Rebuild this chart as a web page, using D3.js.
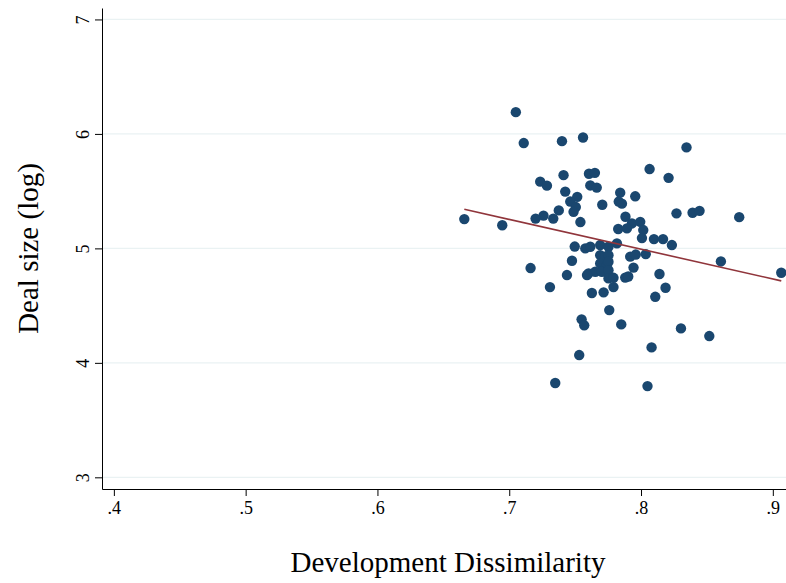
<!DOCTYPE html>
<html>
<head>
<meta charset="utf-8">
<script src="https://cdn.jsdelivr.net/npm/d3@7"></script>
<style>
  body { margin: 0; background: #fff; }
  text { font-family: "Liberation Serif", "Times New Roman", serif; }
</style>
</head>
<body>
<div id="chart"></div>
<script>
// Development dissimilarity (x) and log deal size (y)
const dissimilarity = [
  0.705, 0.711, 0.740, 0.756, 0.7235, 0.7286, 0.7412, 0.7605, 0.7650, 0.7615,
  0.7664, 0.7425, 0.7516, 0.7463, 0.7505, 0.7488, 0.7706, 0.7842, 0.7831, 0.7855,
  0.7376, 0.7334, 0.7260, 0.7200, 0.7540, 0.6659, 0.6947, 0.8345, 0.8065, 0.8209,
  0.7956, 0.7882, 0.8269, 0.8391, 0.8444, 0.8745, 0.7827, 0.7931, 0.7994, 0.7893,
  0.8017, 0.8007, 0.8098, 0.8167, 0.8234, 0.8606, 0.9064, 0.7497, 0.7577, 0.7615,
  0.7690, 0.7753, 0.7817, 0.7690, 0.7728, 0.7753, 0.7690, 0.7741, 0.7753, 0.7602,
  0.7653, 0.7703, 0.7753, 0.7753, 0.7791, 0.7880, 0.7903, 0.7791, 0.7627, 0.7716,
  0.7918, 0.7960, 0.8036, 0.7943, 0.8108, 0.8140, 0.8186, 0.7162, 0.7476, 0.7438,
  0.7590, 0.7309, 0.7759, 0.7549, 0.7569, 0.7850, 0.7531, 0.7349, 0.8303, 0.8518,
  0.8080, 0.8049
];
const dealSize = [
  6.190, 5.920, 5.937, 5.969, 5.583, 5.548, 5.640, 5.652, 5.660, 5.550,
  5.531, 5.496, 5.450, 5.409, 5.361, 5.319, 5.381, 5.487, 5.409, 5.391,
  5.332, 5.260, 5.286, 5.260, 5.230, 5.256, 5.202, 5.882, 5.693, 5.616,
  5.455, 5.276, 5.306, 5.311, 5.328, 5.273, 5.169, 5.218, 5.232, 5.175,
  5.160, 5.090, 5.081, 5.081, 5.029, 4.886, 4.787, 5.016, 5.000, 5.014,
  5.029, 5.014, 5.044, 4.941, 4.927, 4.941, 4.869, 4.854, 4.883, 4.782,
  4.796, 4.796, 4.810, 4.738, 4.743, 4.745, 4.754, 4.662, 4.610, 4.616,
  4.928, 4.946, 4.950, 4.832, 4.577, 4.776, 4.656, 4.828, 4.892, 4.767,
  4.767, 4.662, 4.461, 4.380, 4.328, 4.336, 4.068, 3.824, 4.301, 4.234,
  4.135, 3.797
];

// Linear fit line (intercept, slope)
const fitIntercept = 7.073;
const fitSlope = -2.60;

const xTicks = [0.4, 0.5, 0.6, 0.7, 0.8, 0.9];
const yTicks = [3, 4, 5, 6, 7];

const width = 786, height = 583;
const margin = { top: 8, right: 0, bottom: 94, left: 102 };

const svg = d3.select("#chart")
    .append("svg")
    .attr("width", width)
    .attr("height", height);

const x = d3.scaleLinear()
    .domain([0.391, 0.910])
    .range([margin.left, width - margin.right]);

const y = d3.scaleLinear()
    .domain([2.898, 7.10])
    .range([height - margin.bottom, margin.top]);

// Gridlines
svg.append("g")
    .selectAll("line")
    .data(yTicks)
    .enter()
    .append("line")
    .attr("x1", margin.left)
    .attr("x2", width - margin.right)
    .attr("y1", d => y(d))
    .attr("y2", d => y(d))
    .attr("stroke", "#eaf2f3")
    .attr("stroke-width", 1.2);

// Y axis (Stata style: labels turned vertical)
const yAxis = svg.append("g")
    .attr("transform", `translate(${margin.left},0)`)
    .call(d3.axisLeft(y).tickValues(yTicks).tickSize(7).tickSizeOuter(0).tickFormat(d3.format("d")));
yAxis.select(".domain").attr("stroke", "#000");
yAxis.selectAll(".tick text")
    .attr("font-size", "18px")
    .attr("font-family", "Liberation Serif, serif")
    .attr("text-anchor", "middle")
    .attr("x", 0)
    .attr("y", 0)
    .attr("dy", "0")
    .attr("transform", "translate(-13,0) rotate(-90)");

// X axis
const xAxis = svg.append("g")
    .attr("transform", `translate(0,${height - margin.bottom})`)
    .call(d3.axisBottom(x).tickValues(xTicks).tickSize(7).tickPadding(5).tickSizeOuter(0)
        .tickFormat(d => d3.format(".1f")(d).replace(/^0/, "")));
xAxis.select(".domain").attr("stroke", "#000");
xAxis.selectAll(".tick text")
    .attr("font-size", "18px")
    .attr("font-family", "Liberation Serif, serif");

// Points
const points = dissimilarity.map((d, i) => ({ x: d, y: dealSize[i] }));

svg.append("g")
    .selectAll("circle")
    .data(points)
    .enter()
    .append("circle")
    .attr("cx", d => x(d.x))
    .attr("cy", d => y(d.y))
    .attr("r", 5.2)
    .attr("fill", "#1a476f");

// Fit line
const xExt = d3.extent(dissimilarity);
svg.append("path")
    .datum(xExt)
    .attr("fill", "none")
    .attr("stroke", "#90353b")
    .attr("stroke-width", 1.6)
    .attr("d", d3.line()
        .x(d => x(d))
        .y(d => y(fitIntercept + fitSlope * d)));

// Axis titles
svg.append("text")
    .attr("text-anchor", "middle")
    .attr("x", 448)
    .attr("y", 572)
    .attr("font-size", "29px")
    .text("Development Dissimilarity");

svg.append("text")
    .attr("text-anchor", "middle")
    .attr("transform", `translate(38,${(margin.top + height - margin.bottom) / 2}) rotate(-90)`)
    .attr("font-size", "29px")
    .text("Deal size (log)");
</script>
</body>
</html>
